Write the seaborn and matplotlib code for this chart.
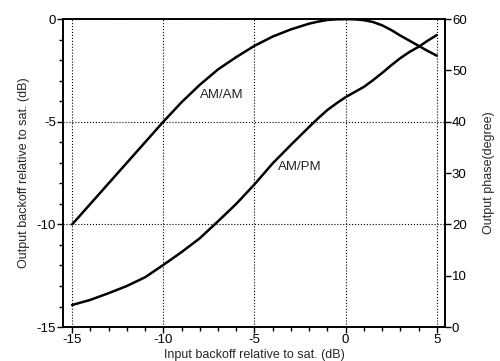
import matplotlib
matplotlib.use("Agg")
import matplotlib.pyplot as plt
from matplotlib.ticker import MultipleLocator
import seaborn as sns
import pandas as pd

sns.set_theme(style="white")
plt.rcParams['font.family'] = ['Liberation Sans', 'DejaVu Sans']
plt.rcParams['axes.unicode_minus'] = False

input_db = [-15, -14, -13, -12, -11, -10, -9, -8, -7, -6, -5, -4, -3, -2, -1.5, -1, -0.5, 0, 0.5, 1, 1.5, 2, 2.5, 3, 3.5, 4, 4.5, 5]
am_am = [-10.0, -9.0, -8.0, -7.0, -6.0, -5.0, -4.05, -3.2, -2.45, -1.85, -1.3, -0.85, -0.5, -0.22, -0.12, -0.04, -0.01, 0.0, -0.01, -0.05, -0.14, -0.3, -0.53, -0.8, -1.05, -1.3, -1.55, -1.78]
am_pm = [4.3, 5.3, 6.6, 8.0, 9.7, 12.1, 14.6, 17.3, 20.6, 24.0, 27.8, 31.9, 35.5, 39.0, 40.7, 42.3, 43.6, 44.8, 45.8, 46.8, 48.1, 49.5, 51.0, 52.4, 53.6, 54.6, 55.8, 56.9]

df = pd.DataFrame({"x": input_db, "amam": am_am, "ampm": am_pm})

fig = plt.figure(figsize=(5, 3.61), dpi=100)
ax = fig.add_axes([0.126, 0.094, 0.764, 0.853])
ax2 = ax.twinx()

sns.lineplot(data=df, x="x", y="amam", ax=ax, color="black", linewidth=1.8)
sns.lineplot(data=df, x="x", y="ampm", ax=ax2, color="black", linewidth=1.8)

ax.set_xlim(-15.5, 5.45)
ax.set_ylim(-15, 0)
ax2.set_ylim(0, 60)

ax.xaxis.set_major_locator(MultipleLocator(5))
ax.xaxis.set_minor_locator(MultipleLocator(1))
ax.yaxis.set_major_locator(MultipleLocator(5))
ax.yaxis.set_minor_locator(MultipleLocator(1))
ax2.yaxis.set_major_locator(MultipleLocator(10))

ax.grid(True, which="major", linestyle=":", color="black", linewidth=0.8)

for a in (ax, ax2):
    for s in a.spines.values():
        s.set_color("black")
        s.set_linewidth(1.2)

ax.tick_params(axis="both", which="major", direction="out", length=4, width=1, colors="black", labelsize=9.5, pad=1, bottom=True, left=True)
ax.tick_params(axis="both", which="minor", direction="out", length=3, width=1, colors="black", bottom=True, left=True)
ax2.tick_params(axis="y", which="major", direction="out", length=4, width=1, colors="black", labelsize=9.5, pad=1, right=True)

ax.set_xlabel("Input backoff relative to sat. (dB)", fontsize=9, labelpad=2)
ax.set_ylabel("Output backoff relative to sat. (dB)", fontsize=9, labelpad=5)
ax2.set_ylabel("Output phase(degree)", fontsize=9, labelpad=12)

ax.text(-6.8, -3.7, "AM/AM", fontsize=9.5, ha="center", va="center")
ax.text(-2.5, -7.2, "AM/PM", fontsize=9.5, ha="center", va="center")

fig.savefig("out.png", dpi=100)
